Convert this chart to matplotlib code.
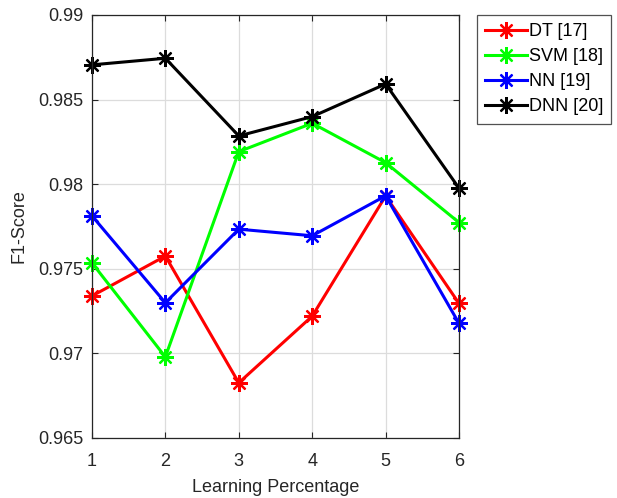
import matplotlib
matplotlib.use('Agg')
import matplotlib.pyplot as plt

plt.rcParams['font.family'] = ['Liberation Sans', 'DejaVu Sans']

learning_pct = [1, 2, 3, 4, 5, 6]
dt = [0.97339, 0.97575, 0.96826, 0.97220, 0.97930, 0.97295]
svm = [0.97535, 0.96979, 0.98192, 0.98360, 0.98127, 0.97773]
nn = [0.97813, 0.97299, 0.97734, 0.97695, 0.97931, 0.97177]
dnn = [0.98705, 0.98744, 0.98285, 0.98399, 0.98592, 0.97976]

series = [(dt, 'r', 'DT [17]'), (svm, '#00ff00', 'SVM [18]'),
          (nn, 'b', 'NN [19]'), (dnn, 'k', 'DNN [20]')]

fig = plt.figure(figsize=(6.17, 4.98), dpi=100)
ax = fig.add_axes([0.149, 0.1205, 0.595, 0.8495])

# asterisk marker, 8 spokes
star = (8, 2, 0)
for vals, col, lab in series:
    ax.plot(learning_pct, vals, color=col, marker=star, markersize=12,
            markeredgewidth=1.6, linewidth=2.2, label=lab, clip_on=False)

ax.set_xlim(1, 6)
ax.set_ylim(0.965, 0.99)
ax.set_xticks(learning_pct)
ax.set_yticks([0.965, 0.97, 0.975, 0.98, 0.985, 0.99])
ax.set_yticklabels(['0.965', '0.97', '0.975', '0.98', '0.985', '0.99'])
ax.grid(True, color='#dcdcdc', linewidth=0.9)
ax.set_axisbelow(True)
ax.tick_params(direction='in', labelsize=13, colors='#262626', length=4,
               top=True, right=True, labeltop=False, labelright=False)
ax.tick_params(axis='x', pad=11)
ax.tick_params(axis='y', pad=6)
for sp in ax.spines.values():
    sp.set_color('#262626')
    sp.set_linewidth(0.9)
ax.set_xlabel('Learning Percentage', fontsize=13, color='#262626', labelpad=6)
ax.set_ylabel('F1-Score', fontsize=13, color='#262626', labelpad=8)

leg = ax.legend(loc='upper left', bbox_to_anchor=(1.049, 1.0), fontsize=13,
                fancybox=False, edgecolor='#262626', handlelength=2.3,
                handletextpad=0.12, borderpad=0.45, labelspacing=0.45,
                borderaxespad=0)
leg.get_frame().set_linewidth(0.9)

fig.savefig('out.png', dpi=100)
